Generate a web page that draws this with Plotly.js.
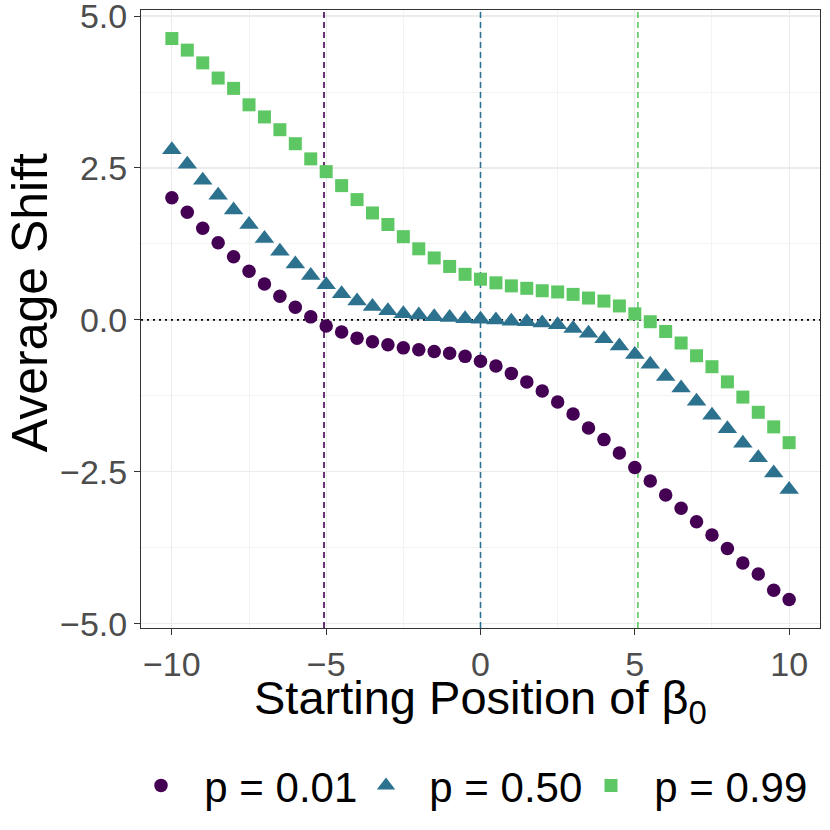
<!DOCTYPE html>
<html>
<head>
<meta charset="utf-8">
<script src="https://cdn.plot.ly/plotly-3.0.1.min.js"></script>
<style>
  html, body {margin: 0; padding: 0; background: #fff;}
  #graph {width: 830px; height: 830px;}
</style>
</head>
<body>
<div id="graph"></div>
<script>
// Starting position of beta_0
const start_pos = [-10, -9.5, -9, -8.5, -8, -7.5, -7, -6.5, -6, -5.5, -5, -4.5, -4, -3.5, -3, -2.5, -2, -1.5, -1, -0.5,
    0, 0.5, 1, 1.5, 2, 2.5, 3, 3.5, 4, 4.5, 5, 5.5, 6, 6.5, 7, 7.5, 8, 8.5, 9, 9.5, 10];

// Average shift for each p
const shift_p01 = [2.01, 1.77, 1.51, 1.27, 1.04, 0.80, 0.59, 0.39, 0.21, 0.05, -0.10, -0.20, -0.30, -0.36, -0.41, -0.46, -0.49, -0.52, -0.55, -0.60,
    -0.68, -0.76, -0.88, -1.02, -1.17, -1.35, -1.55, -1.78, -1.97, -2.19, -2.43, -2.65, -2.88, -3.10, -3.32, -3.54, -3.76, -4.00, -4.18, -4.45, -4.60];
const shift_p50 = [2.80, 2.56, 2.30, 2.05, 1.81, 1.57, 1.34, 1.13, 0.92, 0.73, 0.58, 0.43, 0.31, 0.22, 0.15, 0.10, 0.08, 0.05, 0.04, 0.02,
    0.01, 0.00, -0.02, -0.03, -0.05, -0.08, -0.14, -0.22, -0.31, -0.43, -0.57, -0.73, -0.93, -1.12, -1.34, -1.57, -1.79, -2.03, -2.27, -2.52, -2.79];
const shift_p99 = [4.63, 4.44, 4.23, 3.98, 3.81, 3.54, 3.34, 3.13, 2.90, 2.65, 2.44, 2.21, 1.98, 1.76, 1.57, 1.37, 1.17, 1.02, 0.88, 0.75,
    0.67, 0.61, 0.56, 0.52, 0.48, 0.46, 0.42, 0.36, 0.31, 0.23, 0.10, -0.03, -0.19, -0.38, -0.59, -0.77, -1.02, -1.27, -1.52, -1.76, -2.02];

const labels = ["p = 0.01", "p = 0.50", "p = 0.99"];
const colors = ["#440154", "#2C728E", "#5DC863"];
const symbols = ["circle", "triangle-up", "square"];
const sizes = [13.5, 17, 13];
const vlines = [-5.07, 0, 5.1]; // dashed reference lines, one per p
const hline = 0;
const x_range = [-11, 11];
const y_range = [-5.07, 5.1];
const x_title = "Starting Position of β<sub>0</sub>";
const y_title = "Average Shift";

const font = "Liberation Sans, Arial, sans-serif";
const series = [shift_p01, shift_p50, shift_p99];

// reference lines go in first so the markers sit on top of them
const line_traces = vlines.map((v, i) => ({x: [v, v], y: y_range, type: "scatter", mode: "lines", showlegend: false, hoverinfo: "skip",
    line: {color: colors[i], width: 1.6, dash: "6px,4px"}}));
line_traces.push({x: x_range, y: [hline, hline], type: "scatter", mode: "lines", showlegend: false, hoverinfo: "skip",
    line: {color: "#000000", width: 1.6, dash: "2px,4px"}});

// nbsp pad = wider gap between legend key and label
const point_traces = series.map((y, i) => ({x: start_pos, y: y, name: "\u00a0\u00a0" + labels[i], type: "scatter", mode: "markers",
    marker: {color: colors[i], symbol: symbols[i], size: sizes[i], line: {width: 0}}}));

const axis_common = {showline: true, mirror: true, linecolor: "#333333", linewidth: 1, ticks: "outside", ticklen: 6, tickcolor: "#333333",
    tickwidth: 1, showgrid: true, gridcolor: "#EBEBEB", gridwidth: 1.2, zeroline: false, ticklabeloverflow: "allow",
    tickfont: {family: font, size: 34, color: "#4D4D4D"}};

// axis titles as annotations so they can sit exactly where the reference has them
const title_notes = [
    {text: x_title, xref: "paper", yref: "paper", x: 0.5, y: -0.118, xanchor: "center", yanchor: "middle", showarrow: false,
        font: {family: font, size: 47, color: "#000"}},
    {text: y_title, xref: "paper", yref: "paper", x: -0.163, y: 0.526, xanchor: "center", yanchor: "middle", showarrow: false,
        textangle: -90, font: {family: font, size: 50, color: "#000"}}];

const graph_layout = {
    width: 830, height: 830, paper_bgcolor: "#fff", plot_bgcolor: "#fff",
    margin: {t: 10, l: 141, r: 10, b: 200},
    font: {family: font, color: "#000"},
    showlegend: true,
    xaxis: Object.assign({}, axis_common, {range: x_range, tickvals: [-10, -5, 0, 5, 10],
        minor: {tickvals: [-7.5, -2.5, 2.5, 7.5], showgrid: true, gridcolor: "#F3F3F3", gridwidth: 1, ticks: ""}}),
    yaxis: Object.assign({}, axis_common, {range: y_range, tickvals: [-5, -2.5, 0, 2.5, 5], tickformat: ".1f",
        minor: {tickvals: [-3.75, -1.25, 1.25, 3.75], showgrid: true, gridcolor: "#F3F3F3", gridwidth: 1, ticks: ""}}),
    legend: {orientation: "h", x: 0, xanchor: "left", y: -0.255, yanchor: "middle",
        font: {family: font, size: 42, color: "#000"}, itemwidth: 30, entrywidth: 180, tracegroupgap: 0},
    annotations: title_notes
};
const graph_config = {responsive: false, displayModeBar: false, staticPlot: true};

Plotly.newPlot("graph", line_traces.concat(point_traces), graph_layout, graph_config);
</script>
</body>
</html>
